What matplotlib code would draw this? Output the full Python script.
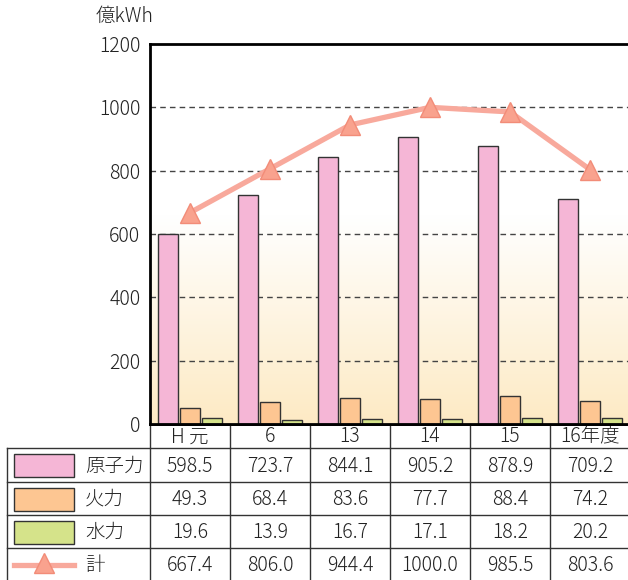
import matplotlib.pyplot as plt
import numpy as np
from matplotlib.patches import Rectangle

plt.rcParams['font.family'] = ['Noto Sans CJK JP', 'DejaVu Sans']
plt.rcParams['font.weight'] = 'light'

# data
years = ['H 元', '6', '13', '14', '15', '16年度']
nuclear = [598.5, 723.7, 844.1, 905.2, 878.9, 709.2]
thermal = [49.3, 68.4, 83.6, 77.7, 88.4, 74.2]
hydro = [19.6, 13.9, 16.7, 17.1, 18.2, 20.2]
total = [667.4, 806.0, 944.4, 1000.0, 985.5, 803.6]
series_names = ['原子力', '火力', '水力', '計']
yticks = [0, 200, 400, 600, 800, 1000, 1200]

c_nuc = '#F5B6D6'
c_the = '#FDC692'
c_hyd = '#D5E38A'
c_line = '#F8A99C'
c_mark = '#F9A28E'

W, H = 628, 580
fig = plt.figure(figsize=(W / 100, H / 100), dpi=100)

# main plot, in pixel terms: left 150, top 44, bottom 424, 80 px per category
ax = fig.add_axes([150 / W, (H - 424) / H, 480 / W, 380 / H])
x = np.arange(len(years))

# gradient background (white above ~650, light orange at bottom)
grad = np.linspace(0, 1, 256)[:, None]
top = np.array([1.0, 1.0, 1.0])
bot = np.array([253, 234, 196]) / 255
img = top + (bot - top) * grad
img = np.repeat(img[:, None, :], 2, axis=1)
ax.imshow(img, extent=(-0.5, 5.5, 0, 660), aspect='auto', zorder=0, origin='upper')
ax.set_xlim(-0.5, 5.5)
ax.set_ylim(0, 1200)

for yv in yticks[1:-1]:
    ax.axhline(yv, color='#444444', linestyle=(0, (4, 3)), linewidth=1, zorder=1)

bw = 0.25
off = 0.27
ax.bar(x - off, nuclear, bw, color=c_nuc, edgecolor='#333333', linewidth=1, zorder=2)
ax.bar(x, thermal, bw, color=c_the, edgecolor='#333333', linewidth=1, zorder=2)
ax.bar(x + off, hydro, bw, color=c_hyd, edgecolor='#333333', linewidth=1, zorder=2)
ax.plot(x, total, color=c_line, linewidth=3.8, marker='^', markersize=14,
        markerfacecolor=c_mark, markeredgecolor='#F28C78', markeredgewidth=1, zorder=3)

ax.set_yticks(yticks)
ax.set_yticklabels([str(v) for v in yticks], fontsize=14, color='#222222')
ax.tick_params(axis='y', length=0, pad=7)
ax.set_xticks([])
ax.spines['right'].set_visible(False)
for s in ['left', 'top', 'bottom']:
    ax.spines[s].set_linewidth(2)
    ax.spines[s].set_color('black')
fig.text(96 / W, 1 - 16 / H, '億kWh', fontsize=14, va='center', ha='left', color='#222222')

# table drawn in pixel coordinates
tb = fig.add_axes([0, 0, 1, 1], zorder=-1)
tb.set_xlim(0, W)
tb.set_ylim(H, 0)
tb.axis('off')
col_edges = [150, 230, 310, 390, 470, 550, 630]
row_edges = [424, 448, 482, 515, 548, 581]
lc = '#333333'
tb.plot([150, W], [424, 424], color='black', lw=2)
for ye in row_edges[1:]:
    tb.plot([7, W], [ye, ye], color=lc, lw=1)
tb.plot([7, 7], [448, H], color=lc, lw=1)
for xe in col_edges[:-1]:
    tb.plot([xe, xe], [424, H], color=lc, lw=1)

fs = 14
for i, yl in enumerate(years):
    xc = (col_edges[i] + col_edges[i + 1]) / 2
    tb.text(xc, 437, yl, ha='center', va='center', fontsize=fs, color='#222222')
rows = [nuclear, thermal, hydro, total]
for r, vals in enumerate(rows):
    yc = (row_edges[r + 1] + row_edges[r + 2]) / 2
    for i, v in enumerate(vals):
        xc = (col_edges[i] + col_edges[i + 1]) / 2
        tb.text(xc, yc + 1, f'{v:.1f}', ha='center', va='center', fontsize=fs, color='#222222')
    tb.text(85, yc + 1, series_names[r], ha='left', va='center', fontsize=fs, color='#222222')

for r, c in enumerate([c_nuc, c_the, c_hyd]):
    yc = (row_edges[r + 1] + row_edges[r + 2]) / 2
    tb.add_patch(Rectangle((14, yc - 11), 60, 23, facecolor=c, edgecolor='#333333', lw=1))
yc = (row_edges[4] + row_edges[5]) / 2
tb.plot([14, 74], [yc, yc], color=c_line, lw=3.8)
tb.plot([44], [yc - 2], marker='^', markersize=14, color=c_mark,
        markeredgecolor='#F28C78', markeredgewidth=1)

fig.savefig('out.png', dpi=100)
